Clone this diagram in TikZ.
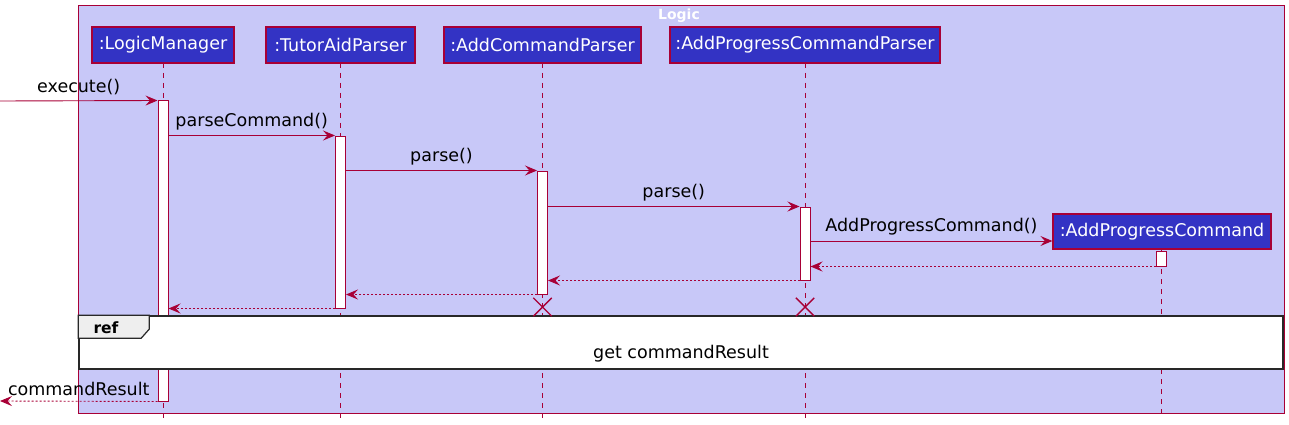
\documentclass[tikz,border=0pt]{standalone}
\usepackage{fontspec}
\setmainfont{DejaVu Sans}
\usetikzlibrary{arrows.meta,shapes.misc}
\definecolor{umlred}{RGB}{168,0,54}
\definecolor{framefill}{RGB}{200,200,248}
\definecolor{partfill}{RGB}{51,51,196}
\definecolor{refgray}{RGB}{238,238,238}
\definecolor{refborder}{RGB}{40,40,40}
\tikzset{
  umlframe/.style={draw=umlred, fill=framefill, line width=1pt, inner sep=0pt},
  part/.style={draw=umlred, fill=partfill, text=white, line width=1.2pt, inner sep=0pt, minimum height=36pt},
  act/.style={draw=umlred, fill=white, line width=1pt, minimum width=10pt, inner sep=0pt},
  life/.style={draw=umlred, line width=0.9pt, dash pattern=on 5pt off 5pt},
  msg/.style={draw=umlred, line width=0.9pt, -{Stealth[length=12pt,width=10pt,inset=4.5pt]}},
  ret/.style={msg, dash pattern=on 2pt off 2pt},
  lbl/.style={text=black, inner sep=0pt, anchor=south, yshift=5pt},
  destroy/.style={cross out, draw=umlred, line width=1.4pt, minimum size=17pt, inner sep=0pt},
  refbox/.style={draw=refborder, fill=white, line width=1.6pt, inner sep=0pt},
}
\begin{document}
\begin{tikzpicture}[x=1pt,y=-1pt,font=\fontsize{17.5}{20}\selectfont]
\useasboundingbox (0,0) rectangle (1289,425);
% outer frame
\node[umlframe, minimum width=1206pt, minimum height=407pt] (logic) at (681,209.5) {};
\node[text=white, font=\fontsize{14}{16}\selectfont\bfseries, inner sep=0pt] (logictitle) at (679,16) {Logic};
% lifeline ends
\coordinate (eLM) at (163,418);
\coordinate (eTA) at (340.5,418);
\coordinate (eACP) at (542.5,418);
\coordinate (eAPCP) at (805,418);
\coordinate (eAPC) at (1161,418);
\draw[life] (163,63) -- (eLM);
\draw[life] (340.5,63) -- (eTA);
\draw[life] (542.5,63) -- (eACP);
\draw[life] (805,63) -- (eAPCP);
\draw[life] (1161,249) -- (eAPC);
% activations
\node[act, minimum height=300pt] (aLM) at (163,251) {};
\node[act, minimum height=172pt] (aTA) at (340.5,222) {};
\node[act, minimum height=123pt] (aACP) at (542.5,232.5) {};
\node[act, minimum height=73pt] (aAPCP) at (805,243.5) {};
\node[act, minimum height=15pt] (aAPC) at (1161,258.5) {};
% ref frame
\node[refbox, minimum width=1204pt, minimum height=53pt] (ref) at (681,342.5) {};
\draw[draw=refborder, fill=refgray, line width=1.2pt] (ref.north west) -- ++(71,0) -- ++(0,14) -- ++(-8,9) -- ++(-63,0) -- cycle;
\node[font=\fontsize{15.5}{17}\selectfont\bfseries, inner sep=0pt] (reftag) at (106,328) {ref};
\node[inner sep=0pt] (reftext) at (681,354) {get commandResult};
% messages
\coordinate (in1) at (0,101);
\coordinate (out1) at (0,401);
\draw[msg] (in1) -- (aLM.north west) node[lbl, pos=0.5] {execute()};
\draw[msg] (aLM.east |- aTA.north) -- (aTA.north west) node[lbl, midway] {parseCommand()};
\draw[msg] (aTA.east |- aACP.north) -- (aACP.north west) node[lbl, midway] {parse()};
\draw[msg] (aACP.east |- aAPCP.north) -- (aAPCP.north west) node[lbl, midway] {parse()};
% created participant
\node[part, minimum width=218pt, minimum height=35pt] (pAPC) at (1162,231.5) {:AddProgressCommand};
\coordinate (apcIn) at ([yshift=-9.5pt]pAPC.west);
\draw[msg] (aAPCP.east |- apcIn) -- (apcIn) node[lbl, midway] {AddProgressCommand()};
\draw[ret] (aAPC.south west) -- (aAPCP.east |- aAPC.south);
\draw[ret] (aAPCP.south west) -- (aACP.east |- aAPCP.south);
\draw[ret] (aACP.south west) -- (aTA.east |- aACP.south);
\draw[ret] (aTA.south west) -- (aLM.east |- aTA.south);
\draw[ret] (aLM.south west) -- (out1) node[lbl, midway] {commandResult};
% destroy marks
\node[destroy] (dACP) at (542.5,307) {};
\node[destroy] (dAPCP) at (805,307) {};
% participants
\node[part, minimum width=142pt] (pLM) at (163,45) {:LogicManager};
\node[part, minimum width=149pt] (pTA) at (340.5,45) {:TutorAidParser};
\node[part, minimum width=197pt] (pACP) at (542.5,45) {:AddCommandParser};
\node[part, minimum width=270pt] (pAPCP) at (805,45) {:AddProgressCommandParser};
\end{tikzpicture}
\end{document}
